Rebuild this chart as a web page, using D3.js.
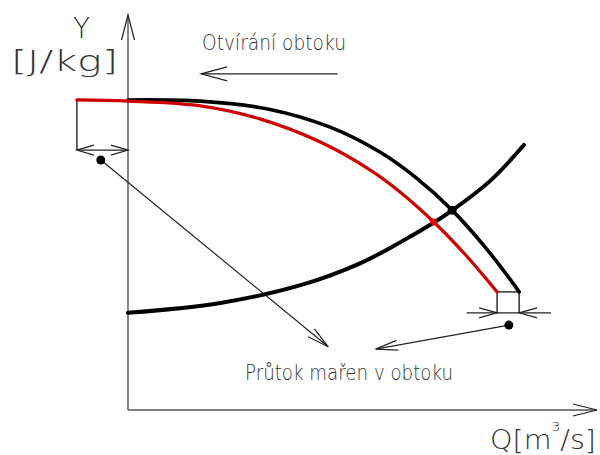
<!DOCTYPE html>
<html>
<head>
<meta charset="utf-8">
<script src="https://cdn.jsdelivr.net/npm/d3@7"></script>
<style>
  html, body { margin: 0; padding: 0; background: #fff; }
  svg { display: block; }
  text { font-family: "DejaVu Sans", sans-serif; font-weight: 200; fill: #333; }
</style>
</head>
<body>
<svg id="chart" width="600" height="455"></svg>
<script>
// Pump characteristic Y(Q) without bypass
const pumpQ = [0, 1.54, 3.03, 4.31, 5.37, 6.12, 6.91, 7.61, 8.14, 8.34];
const pumpY = [7.85, 7.82, 7.61, 7.16, 6.53, 5.90, 5.06, 4.13, 3.32, 2.99];
// Effective characteristic with the bypass open
const bypassQ = [-1.09, 0, 1.54, 2.81, 4.09, 5.16, 5.80, 6.52, 7.18, 7.87];
const bypassY = [7.85, 7.82, 7.70, 7.37, 6.79, 6.08, 5.52, 4.76, 3.95, 2.99];
// System (pipeline) characteristic
const systemQ = [0, 1.97, 3.68, 4.96, 5.81, 6.54, 6.92, 7.74, 8.44];
const systemY = [2.46, 2.71, 3.16, 3.72, 4.25, 4.76, 5.06, 5.82, 6.71];

// Labels
const yAxisLabel = ["Y", "[J/kg]"];
const xAxisLabel = ["Q[m", "3", "/s]"];
const bypassOpenLabel = "Otvírání obtoku";
const bypassFlowLabel = "Průtok mařen v obtoku";

const svg = d3.select("#chart");
const x = d3.scaleLinear().domain([0, 10]).range([128, 597]);
const y = d3.scaleLinear().domain([0, 10]).range([410, 15]);

const zip = (qs, ys) => qs.map((q, i) => [q, ys[i]]);
const line = d3.line().x(d => x(d[0])).y(d => y(d[1])).curve(d3.curveCatmullRom.alpha(0.5));

// open "V" arrowhead at tip (px), pointing away from (fx, fy)
function arrowHead(g, tx, ty, fx, fy, len, half, width) {
  const dx = tx - fx, dy = ty - fy, n = Math.hypot(dx, dy);
  const ux = dx / n, uy = dy / n, px = -uy, py = ux;
  const bx = tx - ux * len, by = ty - uy * len;
  g.append("path")
    .attr("d", `M${bx + px * half},${by + py * half}L${tx},${ty}L${bx - px * half},${by - py * half}`)
    .attr("fill", "none").attr("stroke", "#222").attr("stroke-width", width || 1.2);
}
function segment(g, x1, y1, x2, y2, color, w) {
  g.append("line").attr("x1", x1).attr("y1", y1).attr("x2", x2).attr("y2", y2)
    .attr("stroke", color || "#222").attr("stroke-width", w || 1.2);
}

const axes = svg.append("g");
// axes with arrow tips
segment(axes, x(0), y(0), x(10), y(0), "#555", 1.4);
segment(axes, x(0), y(0), x(0), y(10), "#555", 1.4);
arrowHead(axes, x(10), y(0), x(0), y(0), 24, 6, 1.2);
arrowHead(axes, x(0), y(10), x(0), y(0), 25, 6.5, 1.2);

// annotation geometry
const ann = svg.append("g");
const bracketY = 6.58;
segment(ann, x(bypassQ[0]), y(bypassY[0]), x(bypassQ[0]), y(bracketY), "#222", 1.4);
segment(ann, x(bypassQ[0]), y(bracketY), x(0), y(bracketY), "#222", 1.4);
arrowHead(ann, x(bypassQ[0]), y(bracketY), x(0), y(bracketY), 17, 5);
arrowHead(ann, x(0), y(bracketY), x(bypassQ[0]), y(bracketY), 17, 5);

const boxTop = bypassY[bypassY.length - 1], boxBottom = 2.46;
const qL = bypassQ[bypassQ.length - 1], qR = pumpQ[pumpQ.length - 1];
segment(ann, x(qL), y(boxTop), x(qR), y(boxTop), "#222", 1.4);
segment(ann, x(qL), y(boxTop), x(qL), y(boxBottom), "#222", 1.4);
segment(ann, x(qR), y(boxTop), x(qR), y(boxBottom), "#222", 1.4);
segment(ann, x(7.22), y(boxBottom), x(9.02), y(boxBottom), "#222", 1.2);
arrowHead(ann, x(qL), y(boxBottom), x(7.22), y(boxBottom), 18, 5);
arrowHead(ann, x(qR), y(boxBottom), x(9.02), y(boxBottom), 18, 5);

// direction of bypass opening
segment(ann, x(4.47), y(8.51), x(1.56), y(8.51), "#222", 1.2);
arrowHead(ann, x(1.56), y(8.51), x(4.47), y(8.51), 26, 7);

// leader lines to the bypass flow label
const leaders = [[-0.58, 6.33, 4.27, 1.6], [8.12, 2.15, 5.28, 1.54]];
leaders.forEach(([q0, y0, q1, y1]) => {
  segment(ann, x(q0), y(y0), x(q1), y(y1), "#222", 1.2);
  arrowHead(ann, x(q1), y(y1), x(q0), y(y0), 22, 5);
  ann.append("circle").attr("cx", x(q0)).attr("cy", y(y0)).attr("r", 4.5).attr("fill", "#000");
});

// characteristics
const curves = svg.append("g").attr("fill", "none").attr("stroke-linecap", "round");
curves.append("path").attr("d", line(zip(systemQ, systemY))).attr("stroke", "#000").attr("stroke-width", 4);
curves.append("path").attr("d", line(zip(pumpQ, pumpY))).attr("stroke", "#000").attr("stroke-width", 3.6);
curves.append("path").attr("d", line(zip(bypassQ, bypassY))).attr("stroke", "#cc0000").attr("stroke-width", 3.2);

// operating points
svg.append("circle").attr("cx", x(6.91)).attr("cy", y(5.06)).attr("r", 4.5).attr("fill", "#000");
svg.append("circle").attr("cx", x(6.52)).attr("cy", y(4.76)).attr("r", 3.5).attr("fill", "#e00000");

// texts
const t = svg.append("g");
function label(str, px, py, size, len) {
  const el = t.append("text").attr("x", px).attr("y", py).attr("font-size", size).text(str);
  if (len) el.attr("textLength", len).attr("lengthAdjust", "spacingAndGlyphs");
  return el;
}
label(yAxisLabel[0], 73, 38, 28, 17);
label(yAxisLabel[1], 11, 71, 28, 107);
label(bypassOpenLabel, 202, 50, 20.5, 144);
label(bypassFlowLabel, 245, 380, 20.5, 208);

// flow axis label with superscript exponent, one text element
const qLabel = t.append("text").attr("x", 490).attr("y", 449).attr("font-size", 27)
  .attr("textLength", 106).attr("lengthAdjust", "spacingAndGlyphs");
qLabel.append("tspan").text(xAxisLabel[0]);
qLabel.append("tspan").attr("font-size", 13).attr("dy", -18).text(xAxisLabel[1]);
qLabel.append("tspan").attr("dy", 18).text(xAxisLabel[2]);
</script>
</body>
</html>
